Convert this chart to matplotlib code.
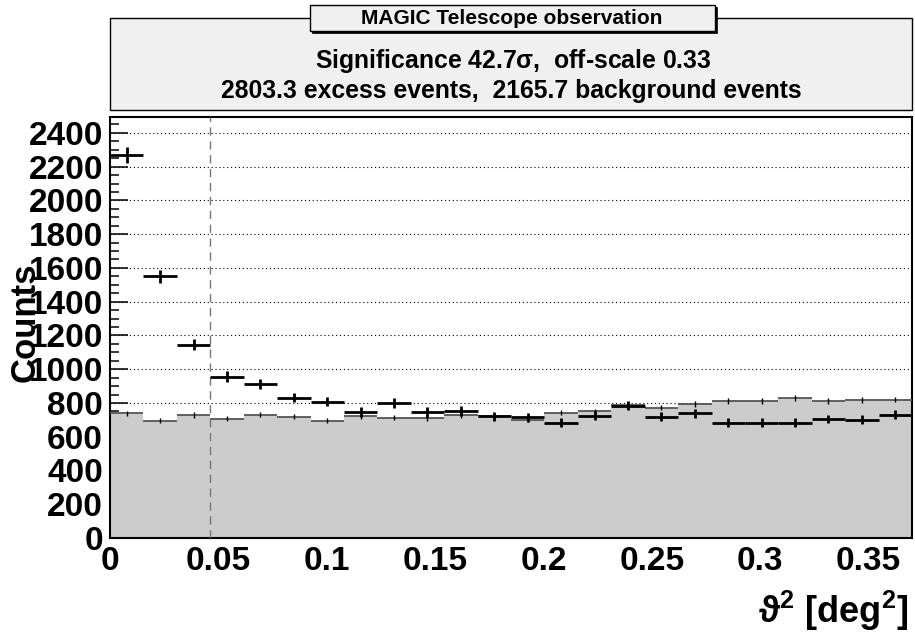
import numpy as np
import matplotlib
matplotlib.use("Agg")
import matplotlib.pyplot as plt
from matplotlib.patches import Rectangle
from matplotlib.ticker import MultipleLocator

plt.rcParams['font.family'] = ['Liberation Sans', 'DejaVu Sans']
plt.rcParams['font.weight'] = 'bold'
plt.rcParams['mathtext.fontset'] = 'custom'
plt.rcParams['mathtext.rm'] = 'Liberation Sans'
plt.rcParams['mathtext.it'] = 'Liberation Sans:italic'
plt.rcParams['mathtext.bf'] = 'Liberation Sans:bold'
plt.rcParams['mathtext.fallback'] = 'stix'

# theta^2 histogram, 24 bins from 0 to 0.37 deg^2
theta2_max = 0.37
n_bins = 24
on_counts = [2270, 1550, 1145, 956, 911, 832, 808, 747, 800, 747, 753, 722,
             715, 682, 725, 784, 719, 739, 684, 684, 684, 705, 701, 731]
off_counts = [739, 694, 729, 707, 731, 719, 696, 723, 713, 711, 727, 720,
              700, 743, 751, 785, 773, 794, 812, 812, 828, 812, 816, 820]
off_scale = 0.33
theta2_cut = 3  # signal region = first 3 bins

title = "MAGIC Telescope observation"
stats_line1 = r"Significance 42.7$\mathrm{\sigma}$,  off-scale 0.33"
stats_line2 = "2803.3 excess events,  2165.7 background events"

x_ticks = [0, 0.05, 0.1, 0.15, 0.2, 0.25, 0.3, 0.35]
x_tick_labels = ["0", "0.05", "0.1", "0.15", "0.2", "0.25", "0.3", "0.35"]
y_ticks = list(range(0, 2401, 200))
y_tick_labels = [str(v) for v in y_ticks]
y_max = 2494

edges = np.linspace(0, theta2_max, n_bins + 1)
centers = 0.5 * (edges[:-1] + edges[1:])
on = np.array(on_counts, dtype=float)
off = np.array(off_counts, dtype=float)
on_err = np.sqrt(on)
off_err = np.sqrt(off * off_scale)

W, H = 915, 635
fig = plt.figure(figsize=(W / 100, H / 100), dpi=100)
ax = fig.add_axes([110 / W, 1 - 538 / H, 802 / W, 421 / H])

ax.set_axisbelow(True)
ax.grid(axis='y', which='major', linestyle=(0, (1, 2.5)), color='black', lw=0.8)

# background (off) histogram
ax.stairs(off, edges, fill=True, color='#cccccc', zorder=2)
ax.hlines(off, edges[:-1], edges[1:], color='#555555', lw=1.3, zorder=3)
ax.vlines(centers, off - off_err, off + off_err, color='black', lw=1.0, zorder=3)

# on-source points
ax.hlines(on, edges[:-1], edges[1:], color='black', lw=2.0, zorder=5)
ax.vlines(centers, on - on_err, on + on_err, color='black', lw=2.0, zorder=5)

# cut line
ax.axvline(edges[theta2_cut], color='#777777', lw=1.0, linestyle=(0, (6, 4)), zorder=4)

ax.set_xlim(0, theta2_max)
ax.set_ylim(0, y_max)
ax.set_xticks(x_ticks)
ax.set_xticklabels(x_tick_labels)
ax.set_yticks(y_ticks)
ax.set_yticklabels(y_tick_labels)
ax.xaxis.set_minor_locator(MultipleLocator(0.01))
ax.yaxis.set_minor_locator(MultipleLocator(50))
ax.tick_params(axis='both', which='both', direction='in', top=False, right=False, width=1.1)
ax.tick_params(axis='x', which='major', length=11.5, pad=6, labelsize=24)
ax.tick_params(axis='x', which='minor', length=5.8)
ax.tick_params(axis='y', which='major', length=13, pad=5, labelsize=24)
ax.tick_params(axis='y', which='minor', length=6.5)
for lab in ax.get_xticklabels() + ax.get_yticklabels():
    lab.set_fontweight('bold')
for sp in ax.spines.values():
    sp.set_linewidth(1.5)

fig.text(25 / W, 1 - 322 / H, "Counts", rotation=90, ha='center', va='center',
         fontsize=25, fontweight='bold')
fig.text(908 / W, 1 - 623 / H, r"$\mathrm{\vartheta}^{\mathbf{2}}$ [deg$^{\mathbf{2}}$]",
         ha='right', va='baseline', fontsize=26, fontweight='bold')

# stats pave
fig.patches.append(Rectangle((110 / W, 1 - 110 / H), 802 / W, 92 / H,
                             transform=fig.transFigure, facecolor='#f0f0f0',
                             edgecolor='black', lw=1.0, zorder=1))
fig.text(513 / W, 1 - 68 / H, stats_line1, ha='center', va='baseline',
         fontsize=17.8, fontweight='bold', zorder=2)
fig.text(511 / W, 1 - 98 / H, stats_line2, ha='center', va='baseline',
         fontsize=17.8, fontweight='bold', zorder=2)

# title pave with shadow
fig.patches.append(Rectangle((312 / W, 1 - 33 / H), 405 / W, 26 / H,
                             transform=fig.transFigure, facecolor='black',
                             edgecolor='black', lw=0.5, zorder=3))
fig.patches.append(Rectangle((310 / W, 1 - 31 / H), 405 / W, 26 / H,
                             transform=fig.transFigure, facecolor='#f0f0f0',
                             edgecolor='black', lw=1.0, zorder=4))
fig.text(512 / W, 1 - 24 / H, title, ha='center', va='baseline',
         fontsize=15, fontweight='bold', zorder=5)

fig.savefig("out.png", dpi=100)
